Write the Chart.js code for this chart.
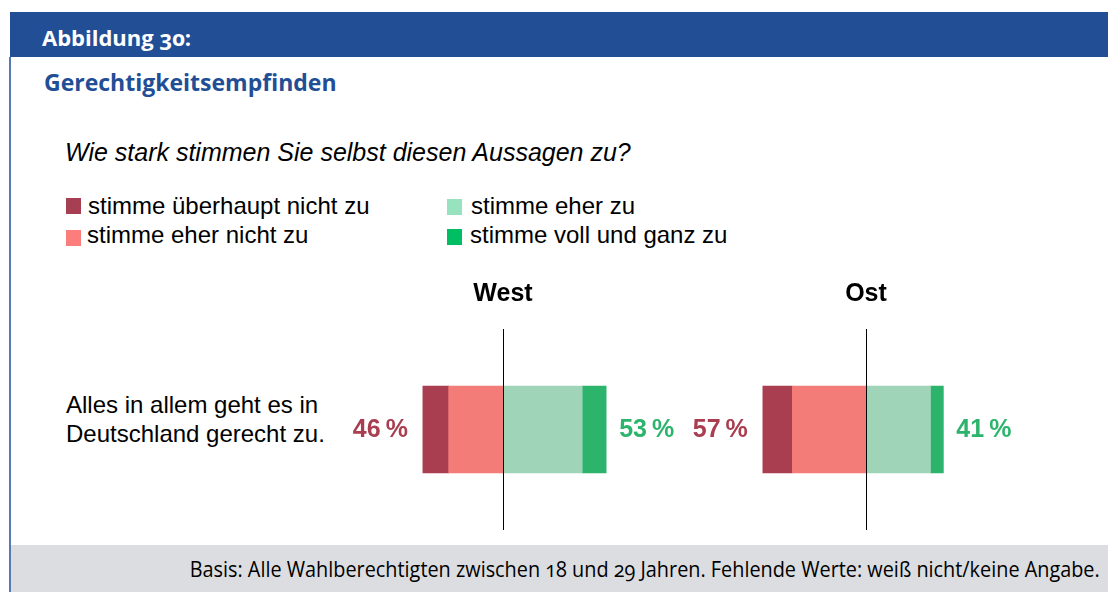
<!DOCTYPE html>
<html lang="de">
<head>
<meta charset="utf-8">
<title>Abbildung 30: Gerechtigkeitsempfinden</title>
<script src="https://cdn.jsdelivr.net/npm/chart.js@4.4.1/dist/chart.umd.min.js"></script>
<style>
  html, body { margin: 0; padding: 0; background: #fff; }
  body { width: 1108px; height: 592px; position: relative; overflow: hidden; }
  .abs { position: absolute; white-space: nowrap; }
  .band { left: 10px; top: 12px; width: 1098px; height: 45px; background: #224e96; }
  .lborder { left: 9px; top: 57px; width: 2px; height: 535px; background: #5a79b4; }
  .hd { font-family: "Open Sans", sans-serif; font-weight: bold; font-size: 22px; line-height: 22px; font-variant-numeric: oldstyle-nums; }
  .arial { font-family: "Liberation Sans", Arial, sans-serif; color: #000; }
  .foot { left: 11px; top: 545px; width: 1097px; height: 47px; background: #dcdde0; }
  .sq { width: 15px; height: 16px; }
  canvas { display: block; }
</style>
</head>
<body>
<div class="abs band"></div>
<div class="abs lborder"></div>
<div class="abs hd" id="fig" style="left:42px; top:25.5px; color:#fff;"></div>
<div class="abs hd" id="ttl" style="left:44px; top:70.5px; color:#224e96; font-size:23px; line-height:23px;"></div>
<div class="abs arial" id="question" style="left:65px; top:140px; font-size:25px; line-height:25px; font-style:italic;"></div>
<div id="legend"></div>
<div class="abs arial" id="cat" style="left:66px; top:390px; font-size:24px; line-height:29px; white-space:normal; width:280px;"></div>
<div class="abs foot"></div>
<div class="abs" id="basis" style="right:8px; top:558.5px; font-family:'Open Sans',sans-serif; font-size:21px; line-height:21px; color:#000; transform-origin: right center; font-variant-numeric: oldstyle-nums;"></div>
<div class="abs" style="left:328px; top:270px; width:350px; height:260px;"><canvas id="cWest" width="350" height="260"></canvas></div>
<div class="abs" style="left:691px; top:270px; width:350px; height:260px;"><canvas id="cOst" width="350" height="260"></canvas></div>

<script>
// ---------- data ----------
const figureLabel = "Abbildung 30:";
const figureTitle = "Gerechtigkeitsempfinden";
const question = "Wie stark stimmen Sie selbst diesen Aussagen zu?";
const statement = ["Alles in allem geht es in", "Deutschland gerecht zu."];
const regions = ["West", "Ost"];
const seriesNames = ["stimme überhaupt nicht zu", "stimme eher nicht zu", "stimme eher zu", "stimme voll und ganz zu"];
const stimmeUeberhauptNicht = [14, 16];
const stimmeEherNicht = [29.5, 40];
const stimmeEher = [43, 35];
const stimmeVollUndGanz = [13, 7];
const ablehnungLabels = ["46\u2009%", "57\u2009%"];
const zustimmungLabels = ["53\u2009%", "41\u2009%"];
const basisNote = "Basis: Alle Wahlberechtigten zwischen 18 und 29 Jahren. Fehlende Werte: weiß nicht/keine Angabe.";

// ---------- styles ----------
const barColors = ["#a83e50", "#f37b78", "#9fd4b9", "#2db46c"];
const legendColors = ["#a63f51", "#fb7e7d", "#97e3bf", "#00bf63"];
const negLabelColor = "#a83e50";
const posLabelColor = "#2db46c";
const FONT = "'Liberation Sans', Arial, sans-serif";

// ---------- static texts ----------
document.getElementById("fig").textContent = figureLabel;
document.getElementById("ttl").textContent = figureTitle;
document.getElementById("question").textContent = question;
document.getElementById("cat").innerHTML = statement.join("<br>");
const basisEl = document.getElementById("basis");
basisEl.textContent = basisNote;
// condense footer note to the reference extent (x 190 .. 1100)
const bw = basisEl.getBoundingClientRect().width;
if (bw > 0) basisEl.style.transform = "scaleX(" + (910 / bw) + ")";

// legend (2 columns x 2 rows)
const legendPos = [
  { sx: 66, sy: 198, tx: 88, ty: 193.7 },
  { sx: 66, sy: 230, tx: 87, ty: 222.7 },
  { sx: 447, sy: 199, tx: 471, ty: 193.7 },
  { sx: 447, sy: 229, tx: 470, ty: 222.7 }
];
const legendEl = document.getElementById("legend");
seriesNames.forEach((name, i) => {
  const p = legendPos[i];
  const sq = document.createElement("div");
  sq.className = "abs sq";
  sq.style.left = p.sx + "px"; sq.style.top = p.sy + "px";
  sq.style.background = legendColors[i];
  legendEl.appendChild(sq);
  const t = document.createElement("div");
  t.className = "abs arial";
  t.style.left = p.tx + "px"; t.style.top = p.ty + "px";
  t.style.fontSize = "24px"; t.style.lineHeight = "24px";
  t.textContent = name;
  legendEl.appendChild(t);
});

// ---------- plugins ----------
const zeroLineAndLabels = {
  id: "zeroLineAndLabels",
  afterDatasetsDraw(chart, args, opts) {
    const { ctx, chartArea, scales } = chart;
    const x0 = Math.round(scales.x.getPixelForValue(0)) + 0.5;
    ctx.save();
    ctx.strokeStyle = "#000";
    ctx.lineWidth = 1;
    ctx.beginPath();
    ctx.moveTo(x0, chartArea.top);
    ctx.lineTo(x0, chartArea.bottom);
    ctx.stroke();

    const i = opts.index;
    const negTotal = -(stimmeUeberhauptNicht[i] + stimmeEherNicht[i]);
    const posTotal = stimmeEher[i] + stimmeVollUndGanz[i];
    const y = scales.y.getPixelForValue(0) + 1;
    ctx.font = "bold 25px " + FONT;
    ctx.textBaseline = "middle";
    ctx.fillStyle = negLabelColor;
    ctx.textAlign = "right";
    ctx.fillText(ablehnungLabels[i], scales.x.getPixelForValue(negTotal) - 15, y);
    ctx.fillStyle = posLabelColor;
    ctx.textAlign = "left";
    ctx.fillText(zustimmungLabels[i], scales.x.getPixelForValue(posTotal) + 13, y);
    ctx.restore();
  }
};

function makeChart(canvasId, i) {
  return new Chart(document.getElementById(canvasId), {
    type: "bar",
    data: {
      labels: [statement.join(" ")],
      datasets: [
        { label: seriesNames[1], data: [-stimmeEherNicht[i]], backgroundColor: barColors[1] },
        { label: seriesNames[0], data: [-stimmeUeberhauptNicht[i]], backgroundColor: barColors[0] },
        { label: seriesNames[2], data: [stimmeEher[i]], backgroundColor: barColors[2] },
        { label: seriesNames[3], data: [stimmeVollUndGanz[i]], backgroundColor: barColors[3] }
      ]
    },
    options: {
      indexAxis: "y",
      responsive: false,
      maintainAspectRatio: false,
      animation: false,
      layout: { padding: 0 },
      datasets: { bar: { barThickness: 87, borderWidth: 0 } },
      scales: {
        x: { type: "linear", min: -95, max: 95, stacked: true, display: false },
        y: { stacked: true, display: false }
      },
      plugins: {
        legend: { display: false },
        tooltip: { enabled: false },
        title: {
          display: true,
          text: regions[i],
          color: "#000",
          font: { family: FONT, size: 25, weight: "bold", lineHeight: 1.2 },
          padding: { top: 9, bottom: 20 }
        },
        zeroLineAndLabels: { index: i }
      }
    },
    plugins: [zeroLineAndLabels]
  });
}

makeChart("cWest", 0);
makeChart("cOst", 1);
</script>
</body>
</html>
